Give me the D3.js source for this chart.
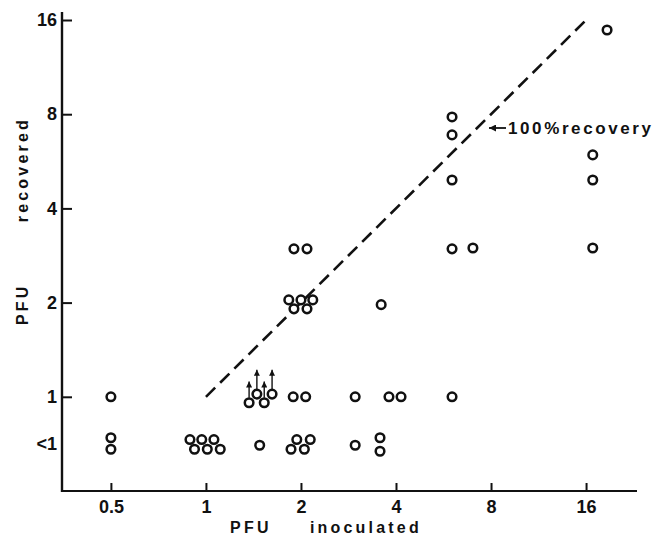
<!DOCTYPE html>
<html>
<head>
<meta charset="utf-8">
<script src="https://cdn.jsdelivr.net/npm/d3@7"></script>
<style>
  html, body { margin: 0; padding: 0; background: #fff; }
  svg { display: block; }
  text { font-family: "Liberation Sans", Arial, sans-serif; fill: #111; }
</style>
</head>
<body>
<svg id="chart" width="666" height="539"></svg>
<script>
// ---- data ----
const xTickValues = [0.5, 1, 2, 4, 8, 16];
const xTickLabels = ["0.5", "1", "2", "4", "8", "16"];
const yTickValues = [0.707, 1, 2, 4, 8, 16];
const yTickLabels = ["<1", "1", "2", "4", "8", "16"];

// PFU inoculated (x) and PFU recovered (y) for each plotted circle
const pfuInoculated = [
  0.5, 0.5, 0.5,
  0.89, 0.97, 1.06, 0.92, 1.01, 1.11,
  1.37, 1.45, 1.53, 1.62,
  1.48,
  1.90, 2.09,
  1.83, 2.00, 2.18, 1.90, 2.09,
  1.89, 2.07,
  1.86, 1.94, 2.05, 2.14,
  3.59,
  2.97, 2.97,
  3.56, 3.56,
  3.80, 4.15,
  6.02, 6.02, 6.02, 6.02, 6.02,
  7.01,
  16.8, 16.8, 16.8,
  18.65
];
const pfuRecovered = [
  1, 0.74, 0.68,
  0.73, 0.73, 0.73, 0.68, 0.68, 0.68,
  0.957, 1.02, 0.957, 1.02,
  0.70,
  2.97, 2.97,
  2.04, 2.04, 2.04, 1.91, 1.91,
  1, 1,
  0.68, 0.73, 0.68, 0.73,
  1.97,
  1, 0.70,
  0.74, 0.67,
  1, 1,
  1, 2.97, 4.93, 6.87, 7.84,
  2.99,
  5.93, 4.93, 2.99,
  14.87
];

// lower-bound arrows (x, circle value, arrow tip value)
const arrowX = [1.37, 1.45, 1.53, 1.62];
const arrowFrom = [0.957, 1.02, 0.957, 1.02];
const arrowTo = [1.12, 1.22, 1.12, 1.22];

// 100% recovery reference line
const refLine = [1, 16];

// ---- drawing ----
const svg = d3.select("#chart");
const x = d3.scaleLog().base(2).domain([0.35, 23.2]).range([62, 637]);
const y = d3.scaleLog().base(2).domain([0.5, 16.6]).range([491, 15]);
const ink = "#111";

// axes lines
svg.append("line").attr("x1", 62).attr("x2", 62).attr("y1", y.range()[1] - 3).attr("y2", 492)
  .attr("stroke", ink).attr("stroke-width", 2.4);
svg.append("line").attr("x1", 61).attr("x2", 637).attr("y1", 491).attr("y2", 491)
  .attr("stroke", ink).attr("stroke-width", 2.2);

// x axis with inward ticks
const xAxis = d3.axisBottom(x).tickValues(xTickValues)
  .tickFormat((d, i) => xTickLabels[i]).tickSizeInner(-8).tickSizeOuter(0).tickPadding(9);
const gx = svg.append("g").attr("transform", "translate(0,491)").call(xAxis);
gx.select(".domain").remove();
gx.selectAll(".tick line").attr("stroke", ink).attr("stroke-width", 2);
gx.selectAll(".tick text").attr("font-size", 18).attr("font-weight", "bold")
  .attr("font-family", "Liberation Sans, Arial, sans-serif").attr("fill", ink);

// y axis with inward ticks
const yAxis = d3.axisLeft(y).tickValues(yTickValues)
  .tickFormat((d, i) => yTickLabels[i]).tickSizeInner(-10).tickSizeOuter(0).tickPadding(6);
const gy = svg.append("g").attr("transform", "translate(62,0)").call(yAxis);
gy.select(".domain").remove();
gy.selectAll(".tick line").attr("stroke", ink).attr("stroke-width", 2)
  .attr("opacity", (d, i) => yTickLabels[i] === "<1" ? 0 : 1);
gy.selectAll(".tick text").attr("font-size", 18).attr("font-weight", "bold")
  .attr("font-family", "Liberation Sans, Arial, sans-serif").attr("fill", ink)
  .attr("x", -5);

// dashed 100% line
svg.append("line")
  .attr("x1", x(refLine[0])).attr("y1", y(refLine[0]))
  .attr("x2", x(refLine[1])).attr("y2", y(refLine[1]))
  .attr("stroke", ink).attr("stroke-width", 2.6).attr("stroke-dasharray", "13,7");

// arrow markers
const defs = svg.append("defs");
defs.append("marker").attr("id", "ahUp").attr("viewBox", "0 0 10 10")
  .attr("refX", 10).attr("refY", 5).attr("markerWidth", 7).attr("markerHeight", 6)
  .attr("markerUnits", "userSpaceOnUse").attr("orient", "auto")
  .append("path").attr("d", "M0,0 L10,5 L0,10 Z").attr("fill", ink);
defs.append("marker").attr("id", "ah2").attr("viewBox", "0 0 10 10")
  .attr("refX", 10).attr("refY", 5).attr("markerWidth", 8).attr("markerHeight", 7)
  .attr("markerUnits", "userSpaceOnUse").attr("orient", "auto")
  .append("path").attr("d", "M0,0 L10,5 L0,10 Z").attr("fill", ink);

svg.append("g").selectAll("line").data(arrowX).join("line")
  .attr("x1", d => x(d)).attr("x2", d => x(d))
  .attr("y1", (d, i) => y(arrowFrom[i]) - 5)
  .attr("y2", (d, i) => y(arrowTo[i]))
  .attr("stroke", ink).attr("stroke-width", 1.4)
  .attr("marker-end", "url(#ahUp)");

// circles
svg.append("g").selectAll("circle").data(pfuInoculated).join("circle")
  .attr("cx", d => x(d))
  .attr("cy", (d, i) => y(pfuRecovered[i]))
  .attr("r", 4.3)
  .attr("fill", "#fff")
  .attr("stroke", ink).attr("stroke-width", 2.5);

// annotation
svg.append("line").attr("x1", 506).attr("x2", 489).attr("y1", 128).attr("y2", 128)
  .attr("stroke", ink).attr("stroke-width", 1.8).attr("marker-end", "url(#ah2)");
svg.append("text").attr("x", 508).attr("y", 134)
  .attr("font-size", 17).attr("font-weight", "bold").attr("letter-spacing", 2.6)
  .text("100%recovery");

// axis titles
svg.append("text").attr("x", 326).attr("y", 533).attr("text-anchor", "middle")
  .attr("font-size", 16).attr("font-weight", "bold").attr("letter-spacing", 3.2)
  .style("white-space", "pre")
  .text("PFU     inoculated");
svg.append("text").attr("transform", "translate(28,221) rotate(-90)")
  .attr("text-anchor", "middle")
  .attr("font-size", 16).attr("font-weight", "bold").attr("letter-spacing", 3.2)
  .style("white-space", "pre")
  .text("PFU        recovered");
</script>
</body>
</html>
